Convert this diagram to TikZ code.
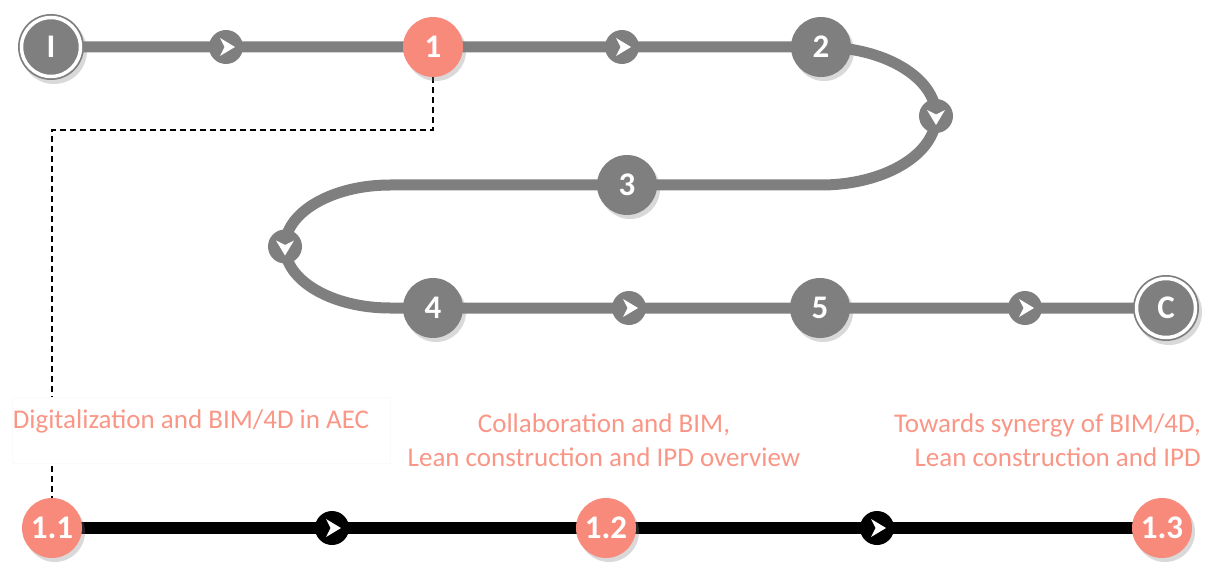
\documentclass[tikz,border=0pt]{standalone}
\usepackage{fontspec}
\setmainfont{Carlito}
\usetikzlibrary{shadows,backgrounds}
\definecolor{gline}{HTML}{7F7F7F}
\definecolor{salmon}{HTML}{F88A7C}
\definecolor{salmontext}{HTML}{FA9686}
\newcommand{\chev}[2]{\fill[white, shift={(#1.center)}, rotate=#2] (-6,9) -- (9,0) -- (-6,-9) -- (-1.5,0) -- cycle;}
\begin{document}
\begin{tikzpicture}[x=1pt,y=1pt,
  stn/.style={circle, inner sep=0pt, minimum size=60pt, text=white,
    font=\bfseries\fontsize{33}{33}\selectfont,
    drop shadow={shadow xshift=3pt, shadow yshift=-4pt, opacity=0.3}},
  gstn/.style={stn, fill=gline},
  sstn/.style={stn, fill=salmon},
  endstn/.style={stn, fill=gline, minimum size=66pt},
  mk/.style={circle, inner sep=0pt, minimum size=34pt, fill=#1},
  lbl/.style={text=salmontext, font=\fontsize{27}{34}\selectfont, inner sep=0pt},
  pathline/.style={gline, line width=11pt},
  blackline/.style={black, line width=12pt},
  linkline/.style={black, line width=1.8pt, dash pattern=on 6pt off 4pt}
]
\useasboundingbox (0,0) rectangle (1206,563);

% stations of the main route
\node[endstn] (I) at (51,516) {I};
\draw[white, line width=3.5pt] (I.center) circle (29.5);
\node[mk=gline] (a1) at (226,516) {};
\node[sstn] (n1) at (433,516) {1};
\node[mk=gline] (a2) at (622,516) {};
\node[gstn] (n2) at (821,516) {2};
\node[mk=gline] (a3) at (936,447) {};
\node[gstn] (n3) at (627,378) {3};
\node[mk=gline] (a4) at (285,316.5) {};
\node[gstn] (n4) at (433,255) {4};
\node[mk=gline] (a5) at (629,255) {};
\node[gstn] (n5) at (820,255) {5};
\node[mk=gline] (a6) at (1025,255) {};
\node[endstn] (C) at (1166,255) {C};
\draw[white, line width=3.5pt] (C.center) circle (29.5);

\coordinate (l1) at (390,378);
\coordinate (d1) at (433,433);
\coordinate (d2) at (52,433);

% sub route
\node[sstn] (n11) at (52,35) {1.1};
\node[mk=black] (b1) at (332,35) {};
\node[sstn] (n12) at (606,35) {1.2};
\node[mk=black] (b2) at (877,35) {};
\node[sstn] (n13) at (1162,35) {1.3};

\chev{a1}{0}\chev{a2}{0}\chev{a3}{-90}\chev{a4}{-90}\chev{a5}{0}\chev{a6}{0}
\chev{b1}{0}\chev{b2}{0}

\begin{scope}[on background layer]
  \draw[pathline] (I.center) -- (n1.center) -- (n2.center)
    arc[start angle=90, end angle=-90, x radius=115, y radius=69]
    -- (n3.center) -- (l1)
    arc[start angle=90, end angle=270, x radius=105, y radius=61.5]
    -- (n4.center) -- (C.center);
  \draw[blackline] (n11.center) -- (n12.center) -- (n13.center);
  \draw[linkline] (n1) -- (d1) -- (d2) -- (n11);
\end{scope}

% labels
\node[draw=black!2, fill=white, minimum width=378pt, minimum height=66pt, inner sep=0pt] (box1) at (201,133) {};
\node[lbl] (t1) at (191,142) {Digitalization and BIM/4D in AEC};
\node[lbl, align=center] (t2) at (604,123) {Collaboration and BIM,\\Lean construction and IPD overview};
\node[lbl, align=right, anchor=east] (t3) at (1201,123) {Towards synergy of BIM/4D,\\Lean construction and IPD};
\end{tikzpicture}
\end{document}
